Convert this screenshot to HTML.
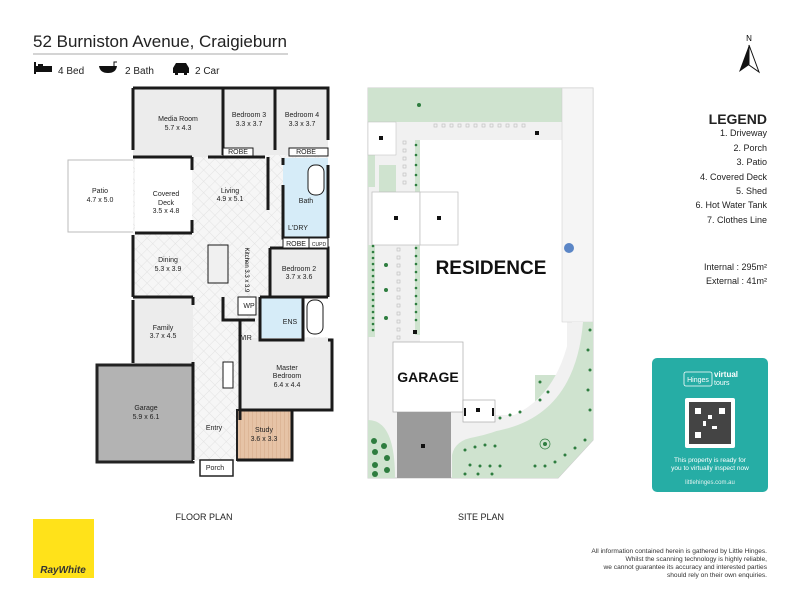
<!DOCTYPE html>
<html><head><meta charset="utf-8"><style>
html,body{margin:0;padding:0;background:#fff}
body{width:800px;height:600px;overflow:hidden;position:relative;font-family:"Liberation Sans",Arial,sans-serif}
</style></head><body>
<svg width="800" height="600" viewBox="0 0 800 600" xmlns="http://www.w3.org/2000/svg" font-family="Liberation Sans, Arial, sans-serif">
<defs>
<pattern id="hatch" width="8" height="8" patternUnits="userSpaceOnUse" patternTransform="rotate(45)">
<rect width="8" height="8" fill="#f6f6f6"/><line x1="0" y1="0" x2="0" y2="8" stroke="#e2e2e2" stroke-width="1"/><line x1="0" y1="0" x2="8" y2="0" stroke="#e2e2e2" stroke-width="1"/></pattern>
<pattern id="wood" width="4" height="4" patternUnits="userSpaceOnUse"><rect width="4" height="4" fill="#e6c3a6"/><line x1="0" y1="0" x2="0" y2="4" stroke="#d4a888" stroke-width="1"/></pattern>
</defs>
<!-- header -->
<text x="33" y="47" font-size="17" fill="#222">52 Burniston Avenue, Craigieburn</text>
<line x1="33" y1="54" x2="288" y2="54" stroke="#aaa" stroke-width="1"/>
<rect x="34" y="66" width="18" height="6" fill="#111"/><rect x="34" y="62" width="2" height="12" fill="#111"/><rect x="38" y="64" width="5" height="3" fill="#111"/>
<text x="58" y="74" font-size="10" fill="#222">4 Bed</text>
<path d="M99 66 h18 q-1 7 -9 7 q-8 0 -9 -7z" fill="#111"/><path d="M114 66 v-4 h3" stroke="#111" fill="none"/>
<text x="125" y="74" font-size="10" fill="#222">2 Bath</text>
<path d="M173 68 l3 -5 h10 l3 5 v5 h-16z" fill="#111"/><rect x="175" y="72" width="3" height="3" fill="#111"/><rect x="184" y="72" width="3" height="3" fill="#111"/>
<text x="195" y="74" font-size="10" fill="#222">2 Car</text>

<!-- FLOOR PLAN -->
<rect x="68" y="160" width="67" height="72" fill="#fff" stroke="#bbb"/>
<rect x="133" y="88" width="195" height="322" fill="url(#hatch)"/>
<rect x="133" y="88" width="90" height="69" fill="#ececec"/>
<rect x="223" y="88" width="52" height="67" fill="#ececec"/>
<rect x="275" y="88" width="53" height="67" fill="#ececec"/>
<rect x="135" y="158" width="57" height="75" fill="#fff"/>
<rect x="283" y="158" width="45" height="80" fill="#d6ecf8"/>
<rect x="270" y="248" width="58" height="50" fill="#ececec"/>
<rect x="260" y="297" width="43" height="43" fill="#d6ecf8"/>
<rect x="303" y="297" width="25" height="40" fill="#fff"/>
<rect x="133" y="297" width="60" height="66" fill="#ececec"/>
<rect x="240" y="338" width="92" height="72" fill="#ececec"/>
<rect x="97" y="365" width="96" height="97" fill="#b3b3b3" stroke="#222" stroke-width="3"/>
<rect x="193" y="363" width="44" height="98" fill="url(#hatch)"/>
<rect x="237" y="410" width="55" height="50" fill="url(#wood)" stroke="#222" stroke-width="2"/>
<rect x="200" y="460" width="33" height="16" fill="#fff" stroke="#222" stroke-width="1.5"/>
<!-- walls -->
<g stroke="#1a1a1a" stroke-width="3" fill="none">
<path d="M133 88 V150 M133 235 V297 M133 300 V363"/>
<path d="M133 88 H328 V140 M328 165 V238"/>
<path d="M223 88 V155 M275 88 V150"/>
<path d="M133 157 H192 M208 157 H265"/>
<path d="M192 157 V170 M192 220 V233 M135 233 H192"/>
<path d="M268 157 V210"/>
<path d="M283 158 V165 M283 185 V238 H328"/>
<path d="M270 248 H328 V297 M270 248 V297"/>
<path d="M133 297 H193 M193 297 V305"/>
<path d="M260 297 H328 M260 297 V340 H303 V338 M303 297 V340"/>
<path d="M223 297 V320 H240 V338 M226 320 H255"/>
<path d="M240 338 V410 H332 V340 H328 M240 410 V420"/>
<path d="M237 460 H292 V410"/>
<path d="M193 362 V460"/>
</g>
<g stroke="#1a1a1a" stroke-width="1" fill="#fff">
<rect x="223" y="148" width="30" height="8"/><rect x="289" y="148" width="39" height="8"/>
<rect x="283" y="238" width="26" height="10"/><rect x="309" y="238" width="19" height="10"/>
<rect x="223" y="362" width="10" height="26"/><rect x="238" y="297" width="18" height="18"/>
<rect x="208" y="245" width="20" height="38" fill="#f0f0f0"/>
<rect x="308" y="165" width="16" height="30" rx="7"/><rect x="307" y="300" width="16" height="34" rx="7"/>
</g>
<g font-size="7" fill="#222" text-anchor="middle">
<text x="178" y="121">Media Room</text><text x="178" y="130">5.7 x 4.3</text>
<text x="249" y="117">Bedroom 3</text><text x="249" y="126">3.3 x 3.7</text>
<text x="302" y="117">Bedroom 4</text><text x="302" y="126">3.3 x 3.7</text>
<text x="238" y="154">ROBE</text><text x="306" y="154">ROBE</text>
<text x="100" y="193">Patio</text><text x="100" y="202">4.7 x 5.0</text>
<text x="166" y="196">Covered</text><text x="166" y="205">Deck</text><text x="166" y="213">3.5 x 4.8</text>
<text x="230" y="193">Living</text><text x="230" y="201">4.9 x 5.1</text>
<text x="306" y="203">Bath</text><text x="298" y="230">L'DRY</text>
<text x="296" y="246">ROBE</text><text x="319" y="246" font-size="5">CUPD</text>
<text x="168" y="262">Dining</text><text x="168" y="271">5.3 x 3.9</text>
<text x="299" y="271">Bedroom 2</text><text x="299" y="279">3.7 x 3.6</text>
<text x="249" y="308">WP</text><text x="290" y="324">ENS</text>
<text x="163" y="330">Family</text><text x="163" y="338">3.7 x 4.5</text>
<text x="245" y="340">WIR</text>
<text x="287" y="370">Master</text><text x="287" y="378">Bedroom</text><text x="287" y="387">6.4 x 4.4</text>
<text x="146" y="410">Garage</text><text x="146" y="419">5.9 x 6.1</text>
<text x="214" y="430">Entry</text>
<text x="264" y="432">Study</text><text x="264" y="441">3.6 x 3.3</text>
<text x="215" y="470">Porch</text>
<text x="204" y="520" font-size="9">FLOOR PLAN</text>
<text x="481" y="520" font-size="9">SITE PLAN</text>
</g>
<text x="245" y="270" font-size="6" transform="rotate(90 245 270)" text-anchor="middle">Kitchen 3.3 x 3.9</text>

<!-- SITE PLAN -->
<path d="M368 88 H593 V440 L558 478 H368Z" fill="#f1f1f1" stroke="#ccc"/>
<rect x="368" y="88" width="194" height="34" fill="#cfe3cf"/>
<rect x="368" y="155" width="7" height="32" fill="#cfe3cf"/>
<rect x="379" y="165" width="17" height="27" fill="#cfe3cf"/>
<rect x="368" y="245" width="7" height="92" fill="#cfe3cf"/>
<rect x="415" y="140" width="5" height="195" fill="#cfe3cf"/>
<path d="M420 140 H562 V322 H567 V415 H465 V412 H463 V342 H420Z" fill="#fff"/>
<g fill="none" stroke="#bbb" stroke-width=".6">
<rect x="434" y="124" width="3" height="3"/><rect x="442" y="124" width="3" height="3"/><rect x="450" y="124" width="3" height="3"/><rect x="458" y="124" width="3" height="3"/><rect x="466" y="124" width="3" height="3"/><rect x="474" y="124" width="3" height="3"/><rect x="482" y="124" width="3" height="3"/><rect x="490" y="124" width="3" height="3"/><rect x="498" y="124" width="3" height="3"/><rect x="506" y="124" width="3" height="3"/><rect x="514" y="124" width="3" height="3"/><rect x="522" y="124" width="3" height="3"/>
<rect x="403" y="141" width="3" height="3"/><rect x="403" y="149" width="3" height="3"/><rect x="403" y="157" width="3" height="3"/><rect x="403" y="165" width="3" height="3"/><rect x="403" y="173" width="3" height="3"/><rect x="403" y="181" width="3" height="3"/>
<rect x="397" y="248" width="3" height="3"/><rect x="397" y="256" width="3" height="3"/><rect x="397" y="264" width="3" height="3"/><rect x="397" y="272" width="3" height="3"/><rect x="397" y="280" width="3" height="3"/><rect x="397" y="288" width="3" height="3"/><rect x="397" y="296" width="3" height="3"/><rect x="397" y="304" width="3" height="3"/><rect x="397" y="312" width="3" height="3"/><rect x="397" y="320" width="3" height="3"/><rect x="397" y="328" width="3" height="3"/><rect x="397" y="336" width="3" height="3"/>
</g>
<rect x="368" y="122" width="28" height="33" fill="#fff" stroke="#bbb" stroke-width=".5"/>
<rect x="372" y="192" width="48" height="53" fill="#fff" stroke="#bbb" stroke-width=".7"/>
<rect x="420" y="192" width="38" height="53" fill="#fff" stroke="#bbb" stroke-width=".7"/>
<rect x="562" y="88" width="31" height="234" fill="#f5f5f5" stroke="#ccc" stroke-width=".5"/>
<path d="M535 375 H565 V390 Q555 405 535 410Z" fill="#cfe3cf"/>
<path d="M452 478 V455 Q455 440 475 437 Q560 420 583 322 H593 V440 L558 478Z" fill="#cfe3cf"/>
<path d="M368 420 Q395 420 395 478 H368Z" fill="#cfe3cf"/>
<path d="M497 421 Q560 405 572 322 H583 Q575 420 490 432Z" fill="#f1f1f1"/>
<rect x="393" y="342" width="70" height="70" fill="#fff" stroke="#aaa" stroke-width=".7"/>
<rect x="463" y="400" width="32" height="22" fill="#fff" stroke="#aaa" stroke-width=".7"/>
<rect x="397" y="412" width="54" height="66" fill="#9b9b9b"/>
<circle cx="569" cy="248" r="5" fill="#5b86c6"/>
<g fill="#2e7d3f">
<circle cx="373" cy="246" r="1.3"/><circle cx="373" cy="252" r="1.3"/><circle cx="373" cy="258" r="1.3"/><circle cx="373" cy="264" r="1.3"/><circle cx="373" cy="270" r="1.3"/><circle cx="373" cy="276" r="1.3"/><circle cx="373" cy="282" r="1.3"/><circle cx="373" cy="288" r="1.3"/><circle cx="373" cy="294" r="1.3"/><circle cx="373" cy="300" r="1.3"/><circle cx="373" cy="306" r="1.3"/><circle cx="373" cy="312" r="1.3"/><circle cx="373" cy="318" r="1.3"/><circle cx="373" cy="324" r="1.3"/><circle cx="373" cy="330" r="1.3"/>
<circle cx="416" cy="248" r="1.3"/><circle cx="416" cy="256" r="1.3"/><circle cx="416" cy="264" r="1.3"/><circle cx="416" cy="272" r="1.3"/><circle cx="416" cy="280" r="1.3"/><circle cx="416" cy="288" r="1.3"/><circle cx="416" cy="296" r="1.3"/><circle cx="416" cy="304" r="1.3"/><circle cx="416" cy="312" r="1.3"/><circle cx="416" cy="320" r="1.3"/>
<circle cx="416" cy="145" r="1.3"/><circle cx="416" cy="155" r="1.3"/><circle cx="416" cy="165" r="1.3"/><circle cx="416" cy="175" r="1.3"/><circle cx="416" cy="185" r="1.3"/>
<circle cx="386" cy="265" r="2"/><circle cx="386" cy="290" r="2"/><circle cx="386" cy="318" r="2"/><circle cx="419" cy="105" r="2"/>
<circle cx="374" cy="441" r="3"/><circle cx="384" cy="446" r="3"/><circle cx="375" cy="452" r="3"/><circle cx="387" cy="458" r="3"/><circle cx="375" cy="465" r="3"/><circle cx="387" cy="470" r="3"/><circle cx="375" cy="474" r="3"/>
<circle cx="465" cy="450" r="1.5"/><circle cx="475" cy="447" r="1.5"/><circle cx="485" cy="445" r="1.5"/><circle cx="495" cy="446" r="1.5"/><circle cx="470" cy="465" r="1.5"/><circle cx="480" cy="466" r="1.5"/><circle cx="490" cy="466" r="1.5"/><circle cx="500" cy="466" r="1.5"/><circle cx="465" cy="474" r="1.5"/><circle cx="478" cy="474" r="1.5"/><circle cx="492" cy="474" r="1.5"/><circle cx="535" cy="466" r="1.5"/><circle cx="545" cy="466" r="1.5"/><circle cx="555" cy="462" r="1.5"/><circle cx="565" cy="455" r="1.5"/><circle cx="575" cy="448" r="1.5"/><circle cx="585" cy="440" r="1.5"/><circle cx="590" cy="410" r="1.5"/><circle cx="588" cy="390" r="1.5"/><circle cx="590" cy="370" r="1.5"/><circle cx="588" cy="350" r="1.5"/><circle cx="590" cy="330" r="1.5"/><circle cx="540" cy="382" r="1.5"/><circle cx="548" cy="392" r="1.5"/><circle cx="540" cy="400" r="1.5"/><circle cx="500" cy="418" r="1.5"/><circle cx="510" cy="415" r="1.5"/><circle cx="520" cy="412" r="1.5"/>
</g>
<circle cx="545" cy="444" r="5" fill="none" stroke="#2e7d3f" stroke-width=".7"/><circle cx="545" cy="444" r="2" fill="#2e7d3f"/>
<g fill="#111"><rect x="379" y="136" width="4" height="4"/><rect x="535" y="131" width="4" height="4"/><rect x="394" y="216" width="4" height="4"/><rect x="437" y="216" width="4" height="4"/><rect x="413" y="330" width="4" height="4"/><rect x="476" y="408" width="4" height="4"/><rect x="421" y="444" width="4" height="4"/><rect x="464" y="408" width="2" height="8"/><rect x="492" y="408" width="2" height="8"/></g>
<text x="491" y="274" font-size="19" font-weight="bold" text-anchor="middle" fill="#111">RESIDENCE</text>
<text x="428" y="382" font-size="14" font-weight="bold" text-anchor="middle" fill="#111">GARAGE</text>

<!-- right -->
<text x="749" y="41" font-size="8" text-anchor="middle">N</text>
<path d="M749 45 L739 72 L749 65Z" fill="#111"/><path d="M749 45 L759 72 L749 65Z" fill="#fff" stroke="#111"/>
<g text-anchor="end" fill="#222" font-size="9">
<text x="767" y="124" font-size="14" font-weight="bold">LEGEND</text>
<text x="767" y="136">1. Driveway</text><text x="767" y="151">2. Porch</text><text x="767" y="165">3. Patio</text><text x="767" y="180">4. Covered Deck</text><text x="767" y="194">5. Shed</text><text x="767" y="208">6. Hot Water Tank</text><text x="767" y="223">7. Clothes Line</text>
<text x="767" y="270">Internal  : 295m²</text><text x="767" y="284">External  :  41m²</text>
</g>
<rect x="652" y="358" width="116" height="134" rx="5" fill="#26ada5"/>
<rect x="684" y="372" width="28" height="14" rx="2" fill="none" stroke="#fff" stroke-width=".8"/>
<text x="698" y="382" font-size="7" fill="#fff" text-anchor="middle">Hinges</text>
<text x="714" y="377" font-size="8" fill="#fff" font-weight="bold">virtual</text><text x="714" y="385" font-size="7" fill="#fff">tours</text>
<rect x="685" y="398" width="50" height="50" rx="2" fill="#fff"/>
<rect x="689" y="402" width="42" height="42" fill="#444"/>
<g fill="#fff"><rect x="695" y="408" width="6" height="6"/><rect x="719" y="408" width="6" height="6"/><rect x="695" y="432" width="6" height="6"/><rect x="708" y="415" width="4" height="4"/><rect x="712" y="426" width="5" height="3"/><rect x="703" y="421" width="3" height="5"/></g>
<text x="710" y="462" font-size="6.5" fill="#fff" text-anchor="middle">This property is ready for</text>
<text x="710" y="470" font-size="6.5" fill="#fff" text-anchor="middle">you to virtually inspect now</text>
<text x="710" y="484" font-size="6" fill="#e0f2f0" text-anchor="middle">littlehinges.com.au</text>
<rect x="33" y="519" width="61" height="59" fill="#ffe21a"/>
<text x="63" y="573" font-size="10" font-weight="bold" font-style="italic" fill="#333" text-anchor="middle">RayWhite</text>
<g font-size="6.6" fill="#333" text-anchor="end">
<text x="767" y="553">All information contained herein is gathered by Little Hinges.</text>
<text x="767" y="561">Whilst the scanning technology is highly reliable,</text>
<text x="767" y="569">we cannot guarantee its accuracy and interested parties</text>
<text x="767" y="577">should rely on their own enquiries.</text>
</g>
</svg>
</body></html>
